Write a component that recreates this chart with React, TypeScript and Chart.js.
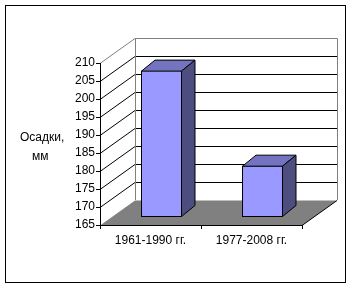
import React, { useEffect, useRef } from "react";
import { Chart, registerables } from "chart.js";

Chart.register(...registerables);

const categories = ["1961-1990 гг.", "1977-2008 гг."];
const values = [205.8, 179.4];
const yTitleLines = ["Осадки,", "мм"];
const yMin = 165;
const yMax = 210;
const yStep = 5;

const FONT = "'Liberation Sans', Arial, sans-serif";
const WALL_DX = 35;
const WALL_DY = 25;
const BAR_SHIFT_X = 11;
const BAR_SHIFT_Y = 7.5;
const BAR_DX = 13.5;
const BAR_DY = 11;

export default function App() {
  const ref = useRef<HTMLCanvasElement>(null);

  useEffect(() => {
    const canvas = ref.current!;
    const a = (v: number) => Math.round(v - 0.5) + 0.5;

    const plugin = {
      id: "excel3d",
      beforeDraw(chart: any) {
        const ctx = chart.ctx;
        const { left, right, top, bottom } = chart.chartArea;
        const ys = chart.scales.y;
        ctx.save();
        ctx.fillStyle = "#ffffff";
        ctx.fillRect(0, 0, chart.width, chart.height);
        ctx.lineWidth = 1;
        ctx.strokeStyle = "#000000";
        ctx.strokeRect(5.5, 5.5, 340, 277);

        const bl = left + WALL_DX;
        const br = right + WALL_DX;
        const bt = top - WALL_DY;
        const bb = bottom - WALL_DY;

        // floor
        ctx.fillStyle = "#808080";
        ctx.beginPath();
        ctx.moveTo(left, bottom + 0.5);
        ctx.lineTo(right, bottom + 0.5);
        ctx.lineTo(br, bb + 0.5);
        ctx.lineTo(bl, bb + 0.5);
        ctx.closePath();
        ctx.fill();
        ctx.strokeStyle = "#000000";
        ctx.beginPath();
        ctx.moveTo(right, bottom + 0.5);
        ctx.lineTo(br, bb + 0.5);
        ctx.stroke();

        // gridlines on back wall and side wall
        const ticks = ys.ticks.map((t: any) => t.value);
        ticks.forEach((v: number) => {
          const py = ys.getPixelForValue(v);
          if (v === yMin) return;
          ctx.strokeStyle = v === yMax ? "#808080" : "#000000";
          ctx.beginPath();
          ctx.moveTo(bl, a(py - WALL_DY));
          ctx.lineTo(br, a(py - WALL_DY));
          ctx.stroke();
          ctx.beginPath();
          ctx.moveTo(left, py + 0.5);
          ctx.lineTo(bl, py - WALL_DY + 0.5);
          ctx.stroke();
        });

        // back wall outline
        ctx.strokeStyle = "#808080";
        ctx.beginPath();
        ctx.moveTo(a(bl), bb);
        ctx.lineTo(a(bl), a(bt));
        ctx.lineTo(a(br), a(bt));
        ctx.lineTo(a(br), bb);
        ctx.stroke();
        ctx.restore();
      },
      beforeDatasetsDraw(chart: any) {
        chart.ctx.save();
        chart.ctx.translate(BAR_SHIFT_X, -BAR_SHIFT_Y);
      },
      afterDatasetsDraw(chart: any) {
        const ctx = chart.ctx;
        const meta = chart.getDatasetMeta(0);
        ctx.lineWidth = 1;
        ctx.strokeStyle = "#000000";
        meta.data.forEach((el: any) => {
          const l = el.x - el.width / 2;
          const r = el.x + el.width / 2;
          const t = el.y;
          const b = el.base;
          // top face
          ctx.fillStyle = "#7373BF";
          ctx.beginPath();
          ctx.moveTo(l + 0.5, t + 0.5);
          ctx.lineTo(l + BAR_DX + 0.5, t - BAR_DY + 0.5);
          ctx.lineTo(r + BAR_DX - 0.5, t - BAR_DY + 0.5);
          ctx.lineTo(r - 0.5, t + 0.5);
          ctx.closePath();
          ctx.fill();
          ctx.stroke();
          // side face
          ctx.fillStyle = "#4D4D80";
          ctx.beginPath();
          ctx.moveTo(r - 0.5, t + 0.5);
          ctx.lineTo(r + BAR_DX - 0.5, t - BAR_DY + 0.5);
          ctx.lineTo(r + BAR_DX - 0.5, b - BAR_DY - 0.5);
          ctx.lineTo(r - 0.5, b - 0.5);
          ctx.closePath();
          ctx.fill();
          ctx.stroke();
        });
        ctx.restore();
      },
      afterDraw(chart: any) {
        const ctx = chart.ctx;
        ctx.save();
        ctx.fillStyle = "#000000";
        ctx.font = "12px " + FONT;
        ctx.textAlign = "left";
        ctx.textBaseline = "alphabetic";
        ctx.fillText(yTitleLines[0], 20, 141);
        ctx.fillText(yTitleLines[1], 32, 159.5);
        ctx.restore();
      },
    };

    const chart = new Chart(canvas, {
      type: "bar",
      data: {
        labels: categories,
        datasets: [
          {
            data: values,
            base: yMin,
            backgroundColor: "#9999FF",
            borderColor: "#000000",
            borderWidth: 1,
            borderSkipped: false,
            categoryPercentage: 1,
            barPercentage: 0.406,
            clip: false as any,
          } as any,
        ],
      },
      options: {
        responsive: false,
        animation: false,
        events: [],
        layout: { padding: { left: 0, top: 63, right: 50, bottom: 0 } },
        plugins: {
          legend: { display: false },
          tooltip: { enabled: false },
          title: { display: false },
        },
        scales: {
          x: {
            offset: true,
            grid: {
              offset: true,
              drawOnChartArea: false,
              drawTicks: true,
              tickLength: 4,
              color: "#000000",
            },
            border: { display: true, color: "#000000" },
            ticks: {
              color: "#000000",
              font: { family: FONT, size: 12 },
              padding: 4,
              maxRotation: 0,
              autoSkip: false,
            },
            afterFit: (s: any) => {
              s.height = 64;
            },
          },
          y: {
            min: yMin,
            max: yMax,
            grid: {
              drawOnChartArea: false,
              drawTicks: true,
              tickLength: 4,
              color: "#000000",
            },
            border: { display: true, color: "#000000" },
            ticks: {
              stepSize: yStep,
              color: "#000000",
              font: { family: FONT, size: 12 },
              padding: 1,
            },
            afterFit: (s: any) => {
              s.width = 100;
            },
          },
        },
      },
      plugins: [plugin],
    });

    return () => chart.destroy();
  }, []);

  return (
    <div style={{ position: "absolute", left: 0, top: 0, width: 352, height: 289 }}>
      <canvas ref={ref} width={352} height={289} style={{ display: "block" }} />
    </div>
  );
}
